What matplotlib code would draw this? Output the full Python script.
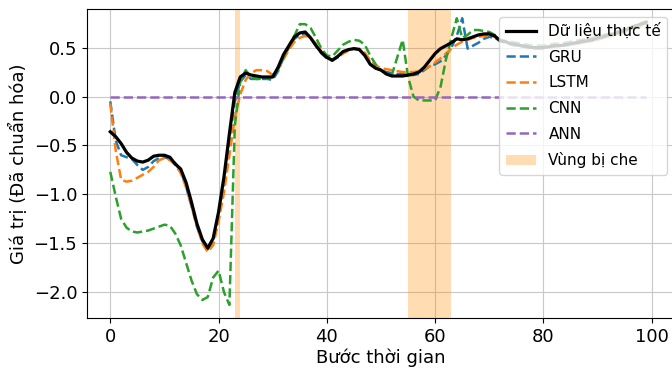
import matplotlib
matplotlib.use("Agg")
import matplotlib.pyplot as plt
import numpy as np

steps = list(range(100))

actual = [
    -0.36, -0.41, -0.48, -0.57, -0.63, -0.66, -0.67, -0.65, -0.61, -0.60,
    -0.60, -0.62, -0.69, -0.74, -0.88, -1.08, -1.30, -1.46, -1.55, -1.45,
    -1.18, -0.82, -0.38, 0.04, 0.20, 0.24, 0.22, 0.21, 0.20, 0.20,
    0.20, 0.30, 0.43, 0.52, 0.61, 0.65, 0.66, 0.60, 0.52, 0.45,
    0.40, 0.37, 0.41, 0.46, 0.48, 0.49, 0.48, 0.42, 0.33, 0.29,
    0.27, 0.23, 0.21, 0.21, 0.21, 0.22, 0.23, 0.25, 0.30, 0.37,
    0.44, 0.49, 0.52, 0.55, 0.59, 0.58, 0.59, 0.61, 0.63, 0.64,
    0.64, 0.62, 0.57, 0.56, 0.54, 0.53, 0.52, 0.51, 0.50, 0.50,
    0.50, 0.51, 0.52, 0.52, 0.53, 0.54, 0.55, 0.56, 0.57, 0.58,
    0.60, 0.61, 0.63, 0.64, 0.66, 0.68, 0.70, 0.72, 0.74, 0.76,
]

gru = [
    -0.05, -0.45, -0.60, -0.62, -0.64, -0.70, -0.75, -0.72, -0.66, -0.63,
    -0.62, -0.64, -0.68, -0.76, -0.92, -1.12, -1.33, -1.48, -1.56, -1.48,
    -1.22, -0.88, -0.45, -0.05, 0.15, 0.22, 0.18, 0.18, 0.18, 0.18,
    0.17, 0.26, 0.40, 0.50, 0.59, 0.63, 0.64, 0.60, 0.52, 0.44,
    0.39, 0.37, 0.40, 0.45, 0.48, 0.49, 0.48, 0.43, 0.35, 0.29,
    0.27, 0.25, 0.24, 0.23, 0.23, 0.22, 0.22, 0.23, 0.27, 0.31,
    0.33, 0.36, 0.42, 0.50, 0.62, 0.80, 0.49, 0.52, 0.55, 0.59,
    0.61, 0.60, 0.57, 0.55, 0.53, 0.52, 0.51, 0.50, 0.49, 0.49,
    0.49, 0.50, 0.51, 0.52, 0.52, 0.53, 0.54, 0.55, 0.56, 0.57,
    0.59, 0.60, 0.62, 0.63, 0.65, 0.67, 0.69, 0.71, 0.73, 0.75,
]

lstm = [
    -0.07, -0.55, -0.85, -0.87, -0.86, -0.83, -0.80, -0.77, -0.72, -0.65,
    -0.63, -0.65, -0.70, -0.78, -0.93, -1.12, -1.32, -1.50, -1.59, -1.52,
    -1.28, -0.98, -0.60, -0.22, 0.02, 0.17, 0.24, 0.27, 0.27, 0.26,
    0.22, 0.28, 0.38, 0.48, 0.56, 0.60, 0.62, 0.59, 0.54, 0.46,
    0.40, 0.38, 0.40, 0.44, 0.47, 0.49, 0.49, 0.45, 0.37, 0.32,
    0.29, 0.28, 0.27, 0.26, 0.25, 0.25, 0.25, 0.26, 0.28, 0.31,
    0.35, 0.39, 0.44, 0.49, 0.53, 0.56, 0.58, 0.60, 0.61, 0.62,
    0.62, 0.61, 0.58, 0.56, 0.54, 0.53, 0.52, 0.51, 0.50, 0.50,
    0.50, 0.50, 0.51, 0.52, 0.53, 0.53, 0.54, 0.55, 0.56, 0.57,
    0.58, 0.60, 0.61, 0.63, 0.64, 0.66, 0.68, 0.70, 0.72, 0.74,
]

cnn = [
    -0.77, -1.02, -1.25, -1.34, -1.38, -1.39, -1.38, -1.37, -1.35, -1.33,
    -1.31, -1.32, -1.40, -1.52, -1.70, -1.88, -2.02, -2.08, -2.05, -1.85,
    -1.78, -2.00, -2.13, -0.30, 0.15, 0.27, 0.20, 0.18, 0.18, 0.19,
    0.20, 0.28, 0.40, 0.52, 0.62, 0.74, 0.74, 0.70, 0.60, 0.49,
    0.42, 0.41, 0.47, 0.53, 0.56, 0.58, 0.57, 0.53, 0.42, 0.33,
    0.27, 0.23, 0.22, 0.40, 0.58, 0.20, 0.00, -0.04, -0.04, -0.04,
    -0.04, 0.10, 0.38, 0.60, 0.80, 0.60, 0.63, 0.68, 0.68, 0.67,
    0.66, 0.63, 0.58, 0.57, 0.56, 0.55, 0.54, 0.53, 0.52, 0.52,
    0.52, 0.53, 0.54, 0.54, 0.55, 0.56, 0.57, 0.58, 0.59, 0.60,
    0.61, 0.63, 0.64, 0.66, 0.67, 0.69, 0.71, 0.73, 0.75, 0.77,
]

ann = [
    0.0, 0.0, 0.0, 0.0, 0.0, 0.0, 0.0, 0.0, 0.0, 0.0,
    0.0, 0.0, 0.0, 0.0, 0.0, 0.0, 0.0, 0.0, 0.0, 0.0,
    0.0, 0.0, 0.0, 0.0, 0.0, 0.0, 0.0, 0.0, 0.0, 0.0,
    0.0, 0.0, 0.0, 0.0, 0.0, 0.0, 0.0, 0.0, 0.0, 0.0,
    0.0, 0.0, 0.0, 0.0, 0.0, 0.0, 0.0, 0.0, 0.0, 0.0,
    0.0, 0.0, 0.0, 0.0, 0.0, 0.0, 0.0, 0.0, 0.0, 0.0,
    0.0, 0.0, 0.0, 0.0, 0.0, 0.0, 0.0, 0.0, 0.0, 0.0,
    0.0, 0.0, 0.0, 0.0, 0.0, 0.0, 0.0, 0.0, 0.0, 0.0,
    0.0, 0.0, 0.0, 0.0, 0.0, 0.0, 0.0, 0.0, 0.0, 0.0,
    0.0, 0.0, 0.0, 0.0, 0.0, 0.0, 0.0, 0.0, 0.0, 0.0,
]

masked_regions = [(23, 24), (55, 63)]

x_ticks = [0, 20, 40, 60, 80, 100]
y_ticks = [-2.0, -1.5, -1.0, -0.5, 0.0, 0.5]

plt.rcParams['font.family'] = ['DejaVu Sans']

fig = plt.figure(figsize=(6.72, 3.69), dpi=100)
ax = fig.add_axes([87 / 672, 51 / 369, 588 / 672, 309 / 369])

for i, (a, b) in enumerate(masked_regions):
    ax.axvspan(a, b, color='darkorange', alpha=0.3, lw=0,
               label='Vùng bị che' if i == 0 else None, zorder=1)

ax.plot(steps, actual, color='black', lw=2.3, label='Dữ liệu thực tế', zorder=5)
ax.plot(steps, gru, color='tab:blue', lw=1.8, ls='--', label='GRU', zorder=3)
ax.plot(steps, lstm, color='tab:orange', lw=1.8, ls='--', label='LSTM', zorder=3)
ax.plot(steps, cnn, color='tab:green', lw=1.8, ls='--', label='CNN', zorder=3)
ax.plot(steps, ann, color='tab:purple', lw=1.8, ls='--', label='ANN', zorder=3)

ax.set_xlim(-4.3, 104.3)
ax.set_ylim(-2.264, 0.895)
ax.set_xticks(x_ticks)
ax.set_yticks(y_ticks)
ax.tick_params(labelsize=13)
ax.grid(True, color='#c8c8c8', lw=0.8)
ax.set_axisbelow(True)

ax.set_xlabel('Bước thời gian', fontsize=13, labelpad=2)
ax.set_ylabel('Giá trị (Đã chuẩn hóa)', fontsize=13, labelpad=4)

handles, labels = ax.get_legend_handles_labels()
order = [labels.index(l) for l in ['Dữ liệu thực tế', 'GRU', 'LSTM', 'CNN', 'ANN', 'Vùng bị che']]
ax.legend([handles[i] for i in order], [labels[i] for i in order],
          loc='upper right', fontsize=11, framealpha=0.8, labelspacing=0.7)

fig.savefig('out.png', dpi=100)
